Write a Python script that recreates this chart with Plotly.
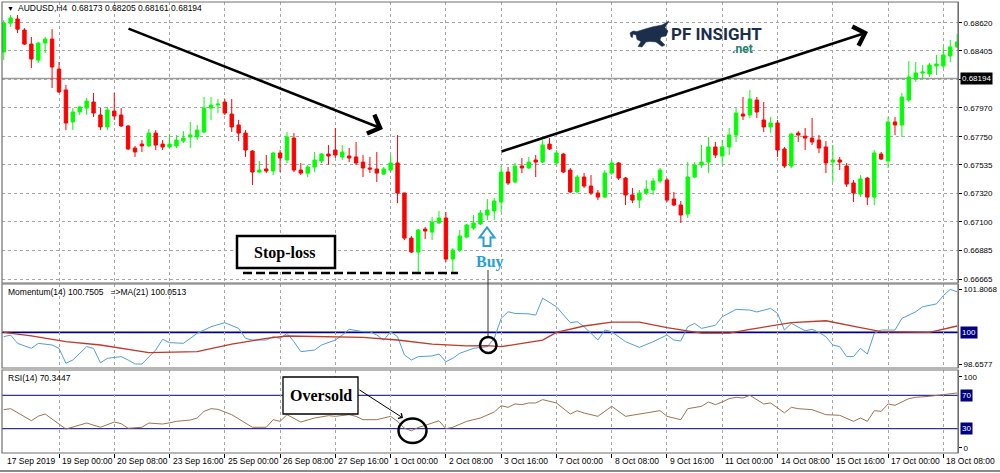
import plotly.graph_objects as go

# ---------------- data (AUDUSD H4) ----------------
opens = [0.68397, 0.68617, 0.68648, 0.68564, 0.68457, 0.68335, 0.68465, 0.68495, 0.68266, 0.68107,
         0.67863, 0.67939, 0.67969, 0.68015, 0.67916, 0.67825, 0.67946, 0.67916, 0.67832, 0.67664,
         0.67694, 0.67680, 0.67778, 0.67694, 0.67672, 0.67680, 0.67717, 0.67748, 0.67748, 0.67786,
         0.67969, 0.67992, 0.68015, 0.67923, 0.67840, 0.67778, 0.67641, 0.67481, 0.67504, 0.67489,
         0.67626, 0.67573, 0.67740, 0.67496, 0.67473, 0.67519, 0.67565, 0.67618, 0.67649, 0.67596,
         0.67603, 0.67596, 0.67557, 0.67512, 0.67504, 0.67466, 0.67496, 0.67550, 0.67321, 0.66977,
         0.66871, 0.67046, 0.67023, 0.67092, 0.67130, 0.66817, 0.66886, 0.66985, 0.67054, 0.67085,
         0.67153, 0.67184, 0.67252, 0.67481, 0.67405, 0.67527, 0.67512, 0.67573, 0.67557, 0.67694,
         0.67550, 0.67618, 0.67496, 0.67329, 0.67443, 0.67374, 0.67321, 0.67290, 0.67473, 0.67550,
         0.67435, 0.67306, 0.67267, 0.67321, 0.67344, 0.67412, 0.67420, 0.67275, 0.67229, 0.67161,
         0.67443, 0.67535, 0.67557, 0.67672, 0.67603, 0.67672, 0.67763, 0.67923, 0.67916, 0.68030,
         0.67878, 0.67825, 0.67855, 0.67657, 0.67527, 0.67778, 0.67755, 0.67740, 0.67725, 0.67672,
         0.67557, 0.67573, 0.67527, 0.67397, 0.67313, 0.67435, 0.67290, 0.67618, 0.67565, 0.67863,
         0.67840, 0.68030, 0.68190, 0.68236, 0.68229, 0.68290, 0.68290, 0.68366, 0.68435]
highs = [0.68640, 0.68679, 0.68679, 0.68579, 0.68511, 0.68473, 0.68511, 0.68571, 0.68320, 0.68145,
         0.67969, 0.67985, 0.68045, 0.68084, 0.67969, 0.67977, 0.68084, 0.67969, 0.67840, 0.67680,
         0.67725, 0.67809, 0.67801, 0.67725, 0.67763, 0.67763, 0.67793, 0.67863, 0.67840, 0.68053,
         0.68053, 0.68038, 0.68038, 0.68038, 0.67878, 0.67801, 0.67649, 0.67565, 0.67611, 0.67634,
         0.67649, 0.67786, 0.67778, 0.67550, 0.67535, 0.67634, 0.67626, 0.67687, 0.67817, 0.67687,
         0.67664, 0.67710, 0.67611, 0.67596, 0.67634, 0.67519, 0.67611, 0.67763, 0.67321, 0.66993,
         0.67046, 0.67062, 0.67138, 0.67184, 0.67176, 0.66901, 0.67039, 0.67085, 0.67153, 0.67191,
         0.67275, 0.67283, 0.67527, 0.67519, 0.67550, 0.67588, 0.67596, 0.67611, 0.67725, 0.67740,
         0.67649, 0.67626, 0.67512, 0.67458, 0.67473, 0.67458, 0.67344, 0.67496, 0.67573, 0.67557,
         0.67443, 0.67359, 0.67344, 0.67420, 0.67435, 0.67512, 0.67435, 0.67329, 0.67260, 0.67557,
         0.67557, 0.67687, 0.67748, 0.67710, 0.67725, 0.67817, 0.67969, 0.68053, 0.68107, 0.68053,
         0.68015, 0.67901, 0.67878, 0.67672, 0.67778, 0.67793, 0.67817, 0.67893, 0.67763, 0.67717,
         0.67687, 0.67596, 0.67550, 0.67420, 0.67458, 0.67443, 0.67649, 0.67634, 0.67901, 0.67901,
         0.68084, 0.68328, 0.68320, 0.68297, 0.68312, 0.68374, 0.68435, 0.68488, 0.68534]
lows = [0.68335, 0.68587, 0.68541, 0.68450, 0.68274, 0.68312, 0.68389, 0.68122, 0.68084, 0.67801,
        0.67801, 0.67916, 0.67916, 0.67901, 0.67801, 0.67801, 0.67878, 0.67825, 0.67649, 0.67596,
        0.67634, 0.67672, 0.67649, 0.67649, 0.67664, 0.67664, 0.67702, 0.67664, 0.67725, 0.67778,
        0.67878, 0.67931, 0.67916, 0.67786, 0.67717, 0.67596, 0.67382, 0.67473, 0.67473, 0.67458,
        0.67481, 0.67550, 0.67481, 0.67458, 0.67443, 0.67481, 0.67550, 0.67535, 0.67588, 0.67573,
        0.67557, 0.67535, 0.67443, 0.67473, 0.67405, 0.67458, 0.67481, 0.67244, 0.66962, 0.66863,
        0.66718, 0.66970, 0.66962, 0.67085, 0.66795, 0.66710, 0.66871, 0.66977, 0.67039, 0.67077,
        0.67115, 0.67115, 0.67176, 0.67382, 0.67397, 0.67473, 0.67504, 0.67443, 0.67550, 0.67649,
        0.67535, 0.67473, 0.67321, 0.67321, 0.67359, 0.67306, 0.67267, 0.67283, 0.67458, 0.67420,
        0.67229, 0.67244, 0.67206, 0.67306, 0.67306, 0.67397, 0.67252, 0.67222, 0.67092, 0.67130,
        0.67435, 0.67512, 0.67473, 0.67588, 0.67535, 0.67611, 0.67710, 0.67878, 0.67893, 0.67893,
        0.67786, 0.67778, 0.67596, 0.67512, 0.67512, 0.67710, 0.67649, 0.67687, 0.67626, 0.67473,
        0.67405, 0.67496, 0.67367, 0.67252, 0.67290, 0.67229, 0.67229, 0.67573, 0.67512, 0.67763,
        0.67748, 0.68015, 0.68168, 0.68190, 0.68206, 0.68221, 0.68274, 0.68320, 0.68427]
closes = [0.68617, 0.68656, 0.68571, 0.68457, 0.68343, 0.68465, 0.68495, 0.68282, 0.68092, 0.67855,
          0.67939, 0.67977, 0.68022, 0.67931, 0.67825, 0.67954, 0.67908, 0.67832, 0.67657, 0.67634,
          0.67680, 0.67778, 0.67687, 0.67672, 0.67694, 0.67725, 0.67740, 0.67763, 0.67801, 0.67969,
          0.67992, 0.67999, 0.67931, 0.67825, 0.67778, 0.67649, 0.67481, 0.67496, 0.67489, 0.67626,
          0.67588, 0.67748, 0.67496, 0.67473, 0.67519, 0.67573, 0.67618, 0.67603, 0.67611, 0.67634,
          0.67588, 0.67550, 0.67512, 0.67504, 0.67473, 0.67504, 0.67550, 0.67321, 0.66977, 0.66871,
          0.67039, 0.67031, 0.67100, 0.67130, 0.66817, 0.66886, 0.66993, 0.67077, 0.67092, 0.67168,
          0.67191, 0.67260, 0.67481, 0.67397, 0.67527, 0.67512, 0.67557, 0.67557, 0.67687, 0.67657,
          0.67626, 0.67481, 0.67329, 0.67443, 0.67374, 0.67321, 0.67290, 0.67473, 0.67550, 0.67435,
          0.67306, 0.67267, 0.67321, 0.67351, 0.67412, 0.67496, 0.67267, 0.67229, 0.67153, 0.67443,
          0.67535, 0.67557, 0.67672, 0.67611, 0.67672, 0.67763, 0.67931, 0.67908, 0.68038, 0.67939,
          0.67825, 0.67855, 0.67649, 0.67527, 0.67771, 0.67763, 0.67740, 0.67710, 0.67664, 0.67550,
          0.67573, 0.67557, 0.67389, 0.67321, 0.67428, 0.67290, 0.67626, 0.67580, 0.67863, 0.67840,
          0.68053, 0.68206, 0.68236, 0.68244, 0.68297, 0.68305, 0.68374, 0.68435, 0.68473]
bar_index = list(range(len(opens)))

tick_idx = list(range(0, 137, 8))
tick_text = ["17 Sep 2019", "19 Sep 00:00", "20 Sep 08:00", "23 Sep 16:00", "25 Sep 00:00",
             "26 Sep 08:00", "27 Sep 16:00", "1 Oct 00:00", "2 Oct 08:00", "3 Oct 16:00",
             "7 Oct 00:00", "8 Oct 08:00", "9 Oct 16:00", "11 Oct 00:00", "14 Oct 08:00",
             "15 Oct 16:00", "17 Oct 00:00", "18 Oct 08:00"]

price_ticks = [0.66665, 0.66885, 0.67100, 0.67320, 0.67535, 0.67750, 0.67970, 0.68185, 0.68405, 0.68620]
price_tick_text = ["0.66665", "0.66885", "0.67100", "0.67320", "0.67535", "0.67750", "0.67970", "",
                   "0.68405", "0.68620"]
last_price = 0.68194

mom_idx = [0, 1, 2, 4, 5, 7, 8, 9, 10, 12, 13, 14, 15, 17, 18, 19, 20, 22, 23, 24, 26, 28, 30, 32, 34,
           35, 36, 38, 39, 40, 41, 42, 43, 45, 46, 48, 49, 50, 52, 53, 54, 55, 56, 57, 58, 59, 60, 62,
           63, 64, 65, 66, 68, 70, 71, 72, 73, 74, 76, 77, 78, 80, 82, 83, 84, 86, 87, 88, 90, 92, 94,
           96, 97, 98, 99, 100, 101, 103, 104, 106, 108, 109, 111, 112, 113, 114, 116, 117, 118, 119,
           120, 121, 122, 123, 124, 125, 126, 127, 129, 130, 132, 133, 135, 136, 137, 138]
mom_val = [99.82, 99.89, 99.54, 99.33, 99.54, 99.47, 99.33, 98.70, 98.84, 99.40, 99.33, 98.72, 98.91,
           98.98, 98.84, 98.67, 98.67, 99.26, 99.71, 99.57, 99.54, 99.96, 100.24, 100.41, 100.17,
           99.75, 99.68, 99.68, 99.82, 99.75, 99.96, 99.61, 99.19, 99.26, 99.47, 99.68, 99.89, 100.13,
           100.03, 100.03, 99.89, 99.68, 100.03, 99.82, 99.05, 98.84, 98.98, 99.01, 99.09, 98.77,
           98.91, 99.12, 99.33, 99.40, 99.75, 100.59, 100.87, 100.80, 100.78, 100.73, 101.44, 101.08,
           100.41, 100.45, 100.24, 99.68, 100.10, 100.03, 99.61, 99.37, 99.61, 99.89, 99.68, 99.64,
           100.24, 100.38, 100.17, 100.30, 100.66, 100.97, 100.94, 100.86, 101.01, 100.80, 100.10,
           100.38, 100.07, 100.13, 100.00, 99.82, 99.47, 99.40, 98.98, 98.98, 99.33, 99.09, 99.96,
           100.10, 100.10, 100.59, 100.87, 101.08, 101.20, 101.55, 101.81, 101.71]
ma_idx = [0, 4, 9, 14, 21, 28, 33, 38, 41, 48, 52, 57, 62, 67, 70, 72, 78, 80, 84, 88, 92, 96, 101,
          105, 108, 114, 119, 124, 127, 134, 138]
ma_val = [100.00, 99.85, 99.61, 99.47, 99.15, 99.19, 99.51, 99.75, 99.85, 99.82, 99.79, 99.68, 99.51,
          99.43, 99.44, 99.40, 99.68, 100.00, 100.27, 100.43, 100.43, 100.20, 99.97, 99.97, 100.13,
          100.41, 100.49, 100.20, 100.03, 100.00, 100.27]
mom_levels = ["98.6577", "100", "101.8068"]
mom_min, mom_mid, mom_max = 98.6577, 100.0, 101.8068

rsi_idx = [0, 1, 4, 5, 6, 9, 12, 14, 16, 17, 18, 20, 21, 23, 24, 25, 27, 28, 29, 30, 31, 33, 36, 38,
           39, 40, 41, 43, 45, 47, 48, 50, 51, 52, 54, 56, 57, 58, 59, 60, 61, 62, 63, 64, 65, 67, 69,
           71, 72, 73, 74, 75, 76, 77, 78, 80, 82, 83, 84, 86, 88, 90, 92, 93, 95, 96, 98, 99, 101,
           102, 103, 104, 105, 106, 107, 108, 110, 111, 113, 114, 115, 117, 119, 121, 123, 124, 125,
           126, 127, 128, 129, 131, 132, 134, 136, 138]
rsi_val = [52.8, 54.0, 39.6, 45.0, 47.6, 29.6, 36.8, 31.7, 38.0, 36.0, 30.5, 31.7, 36.8, 35.6, 37.0,
           38.8, 40.4, 42.8, 50.8, 54.0, 53.2, 46.8, 31.7, 31.7, 40.8, 38.8, 46.8, 38.0, 42.8, 45.6,
           44.8, 46.8, 44.8, 40.8, 40.8, 44.8, 38.8, 30.5, 27.5, 31.5, 34.0, 37.0, 39.5, 30.0, 31.7,
           38.8, 42.8, 50.0, 57.5, 55.6, 59.6, 58.8, 60.8, 60.8, 64.8, 60.8, 47.6, 51.6, 48.8, 44.8,
           56.8, 44.8, 47.6, 48.8, 51.6, 44.8, 40.8, 54.0, 56.8, 62.0, 58.8, 62.0, 66.0, 67.6, 66.8,
           70.0, 59.6, 60.8, 49.0, 55.6, 54.0, 52.8, 46.8, 46.0, 38.8, 42.8, 38.8, 51.6, 50.8, 59.6,
           58.0, 66.0, 67.6, 68.8, 70.7, 72.8]
rsi_high, rsi_low = 70, 30

header_text = "AUDUSD,H4\u00a0\u00a00.68173\u00a00.68205\u00a00.68161\u00a00.68194"
mom_text = "Momentum(14)\u00a0100.7505\u00a0\u00a0\u00a0=>MA(21)\u00a0100.0513"
rsi_text = "RSI(14)\u00a070.3447"

# ---------------- geometry helpers (decoration positions in pixels) ----------------
W, H = 1000, 473
ML, MR, MT, MB = 2, 42, 2, 20


def px(x):
    return (x - ML) / (W - ML - MR)


def py(y):
    return (H - MB - y) / (H - MT - MB)


def path_from(points):
    s = "M " + " L ".join(f"{px(a):.5f},{py(b):.5f}" for a, b in points)
    return s + " Z"


FONT = "Liberation Sans, Arial, sans-serif"
SERIF = "Liberation Serif, Times New Roman, serif"
GRID = "#a6a6a6"
NAVY = "#000080"

fig = go.Figure()
fig.add_trace(go.Candlestick(
    x=bar_index, open=opens, high=highs, low=lows, close=closes,
    increasing=dict(line=dict(color="#00ff00", width=1), fillcolor="#00ff00"),
    decreasing=dict(line=dict(color="#ff0000", width=1), fillcolor="#ff0000"),
    xaxis="x", yaxis="y", showlegend=False, hoverinfo="skip"))
fig.add_trace(go.Scatter(x=mom_idx, y=mom_val, mode="lines", line=dict(color="#4f9fd8", width=1),
                         xaxis="x2", yaxis="y2", showlegend=False, hoverinfo="skip"))
fig.add_trace(go.Scatter(x=ma_idx, y=ma_val, mode="lines", line=dict(color="#c0392b", width=1.3),
                         xaxis="x2", yaxis="y2", showlegend=False, hoverinfo="skip"))
fig.add_trace(go.Scatter(x=rsi_idx, y=rsi_val, mode="lines", line=dict(color="#9e7350", width=1),
                         xaxis="x3", yaxis="y3", showlegend=False, hoverinfo="skip"))

xr = [-0.25, 138.12]
common_x = dict(range=xr, showgrid=True, gridcolor=GRID, griddash="dot", gridwidth=1,
                tickvals=tick_idx[1:], showticklabels=False, zeroline=False, fixedrange=True)
ytick = dict(size=8, family=FONT, color="#000")

fig.update_layout(
    width=W, height=H, margin=dict(l=ML, r=MR, t=MT, b=MB),
    paper_bgcolor="white", plot_bgcolor="white", hovermode=False, showlegend=False,
    xaxis=dict(common_x, domain=[0, 1], anchor="y", ticks="", rangeslider=dict(visible=False)),
    xaxis2=dict(common_x, domain=[0, 1], anchor="y2", matches="x", ticks=""),
    xaxis3=dict(common_x, domain=[0, 1], anchor="y3", matches="x", ticks="outside", ticklen=4,
                tickcolor="#000"),
    yaxis=dict(domain=[py(283), 1], range=[0.666345, 0.68778], side="right", tickvals=price_ticks,
               ticktext=price_tick_text, showgrid=True, gridcolor=GRID, griddash="dot",
               ticks="outside", ticklen=3, tickcolor="#000", tickfont=ytick, zeroline=False,
               showline=True, linecolor="#707070", fixedrange=True),
    yaxis2=dict(domain=[py(368), py(284)], range=[98.502, 102.038], side="right",
                tickvals=[mom_min, mom_max], ticktext=[mom_levels[0], mom_levels[2]], showgrid=False,
                ticks="outside", ticklen=3, tickcolor="#000", tickfont=ytick, zeroline=False,
                showline=True, linecolor="#707070", fixedrange=True),
    yaxis3=dict(domain=[0, py(370)], range=[0.9, 100.3], side="right", tickvals=[7, 92],
                ticktext=["0", "100"], showgrid=False, ticks="outside", ticklen=3, tickcolor="#000",
                tickfont=ytick, zeroline=False, showline=True, linecolor="#707070", fixedrange=True),
)

shapes = []
# panel borders
for top, bot in [(1, 283), (284, 368), (370, 453)]:
    y1 = 1 if top == 1 else py(top)
    shapes.append(dict(type="rect", xref="paper", yref="paper", x0=0, x1=1, y0=py(bot), y1=y1,
                       line=dict(color="#707070", width=1.2), layer="above"))
# current price line
shapes.append(dict(type="line", xref="paper", yref="y", x0=0, x1=1, y0=last_price, y1=last_price,
                   line=dict(color="#9a9a9a", width=1.5), layer="below"))
# momentum 100 level
shapes.append(dict(type="line", xref="paper", yref="y2", x0=0, x1=1, y0=mom_mid, y1=mom_mid,
                   line=dict(color=NAVY, width=1.6), layer="below"))
# RSI levels
for lv in (rsi_high, rsi_low):
    shapes.append(dict(type="line", xref="paper", yref="y3", x0=0, x1=1, y0=lv, y1=lv,
                       line=dict(color=NAVY, width=1), layer="below"))
# Stop-loss box and dashed line
shapes.append(dict(type="rect", xref="paper", yref="paper", x0=px(237), x1=px(335), y0=py(268),
                   y1=py(236), line=dict(color="#000", width=2.5), fillcolor="white"))
shapes.append(dict(type="line", xref="paper", yref="paper", x0=px(243), x1=px(458), y0=py(273),
                   y1=py(273), line=dict(color="#000", width=2.5, dash="9px,4px")))
# Buy hollow arrow
shapes.append(dict(type="path", xref="paper", yref="paper",
                   path=path_from([(483.5, 246), (483.5, 237.5), (479.5, 237.5), (487, 227.5),
                                   (494.5, 237.5), (490.5, 237.5), (490.5, 246)]),
                   line=dict(color="#2a9fd6", width=2), fillcolor="white"))
# vertical connector line from Buy to momentum circle
shapes.append(dict(type="line", xref="paper", yref="paper", x0=px(488), x1=px(488), y0=py(270),
                   y1=py(337), line=dict(color="#333", width=1)))
shapes.append(dict(type="circle", xref="paper", yref="paper", x0=px(480), x1=px(496.5), y0=py(353),
                   y1=py(337), line=dict(color="#000", width=2.5)))
# Oversold box and ellipse
shapes.append(dict(type="rect", xref="paper", yref="paper", x0=px(283), x1=px(358), y0=py(414),
                   y1=py(377), line=dict(color="#000", width=1.3), fillcolor="white"))
shapes.append(dict(type="circle", xref="paper", yref="paper", x0=px(398.5), x1=px(426.5), y0=py(443),
                   y1=py(418.5), line=dict(color="#000", width=2.5)))
# logo bull (charging right)
shapes.append(dict(type="path", xref="paper", yref="paper",
                   path=path_from([(631, 37), (630, 33), (633, 31), (637, 31.5), (645, 29), (652, 27),
                                   (657, 26), (662, 25), (669, 21), (665, 27.5), (668, 31), (666, 36),
                                   (661, 37), (660, 40), (665, 45), (662, 46.5), (656, 42), (650, 41.5),
                                   (646, 42), (642, 47), (638, 46.5), (641, 41.5), (637, 39.5),
                                   (636, 35), (633, 34), (632.5, 37.5)]),
                   line=dict(color="#1b2e4b", width=0.5), fillcolor="#1b2e4b"))
# bottom window edge
shapes.append(dict(type="line", xref="paper", yref="paper", x0=-0.01, x1=1.05, y0=py(471), y1=py(471),
                   line=dict(color="#8a8a8a", width=2)))

ann = []
# trend arrows
ann.append(dict(xref="paper", yref="paper", x=px(383), y=py(129), ax=-256, ay=-101, axref="pixel",
                ayref="pixel", text="", showarrow=True, arrowhead=4, arrowsize=1.5, arrowwidth=2.6,
                arrowcolor="#000"))
ann.append(dict(xref="paper", yref="paper", x=px(868), y=py(32), ax=-368, ay=120, axref="pixel",
                ayref="pixel", text="", showarrow=True, arrowhead=4, arrowsize=1.5, arrowwidth=2.6,
                arrowcolor="#000"))
# oversold pointer
ann.append(dict(xref="paper", yref="paper", x=px(403), y=py(418), ax=-45, ay=-29, axref="pixel",
                ayref="pixel", text="", showarrow=True, arrowhead=4, arrowsize=1.2, arrowwidth=1,
                arrowcolor="#000"))


def label(x, y, text, size, family, color, xanchor="center"):
    return dict(xref="paper", yref="paper", x=px(x), y=py(y), xanchor=xanchor, yanchor="middle",
                text=text, showarrow=False, font=dict(size=size, family=family, color=color))


# header texts
ann.append(label(5, 8, "\u25bc", 7, FONT, "#000", "left"))
ann.append(label(16, 8, header_text, 8.5, FONT, "#000", "left"))
ann.append(label(6, 292, mom_text, 8.5, FONT, "#000", "left"))
ann.append(label(6, 378, rsi_text, 8.5, FONT, "#000", "left"))
# annotation labels
ann.append(label(284, 253, "<b>Stop-loss</b>", 16, SERIF, "#000"))
ann.append(label(490, 262, "<b>Buy</b>", 16, SERIF, "#2a9fd6"))
ann.append(label(320.5, 395.5, "<b>Oversold</b>", 16, SERIF, "#000"))
# logo text
ann.append(label(669, 34.5, "<b>PF INSIGHT</b>", 17, "Roboto, Liberation Sans, sans-serif", "#1b2e4b",
                 "left"))
ann.append(label(742, 48.5, "<b>.net</b>", 12, "Roboto, Liberation Sans, sans-serif", "#1d8070"))
# value tags on the right scale
ann.append(dict(xref="paper", yref="y", x=px(960), y=last_price, xanchor="left", yanchor="middle",
                text=f"{last_price:.5f}", showarrow=False, bgcolor="#000", borderpad=1,
                font=dict(size=8, family=FONT, color="white")))
ann.append(dict(xref="paper", yref="y2", x=px(960), y=mom_mid, xanchor="left", yanchor="middle",
                text=mom_levels[1], showarrow=False, bgcolor=NAVY, borderpad=1,
                font=dict(size=8, family=FONT, color="white")))
for lv in (rsi_high, rsi_low):
    ann.append(dict(xref="paper", yref="y3", x=px(960), y=lv, xanchor="left", yanchor="middle",
                    text=str(lv), showarrow=False, bgcolor=NAVY, borderpad=1,
                    font=dict(size=8, family=FONT, color="white")))
# time labels
for ti, tt in zip(tick_idx, tick_text):
    ann.append(dict(xref="x3", yref="paper", x=ti, y=py(461), xanchor="left", yanchor="middle",
                    xshift=1, text=tt, showarrow=False, font=dict(size=8.5, family=FONT, color="#000")))

fig.update_layout(shapes=shapes, annotations=ann)

fig.write_html("out.html", config={"displayModeBar": False},
               post_script="document.body.style.margin='0';document.body.style.overflow='hidden';")
